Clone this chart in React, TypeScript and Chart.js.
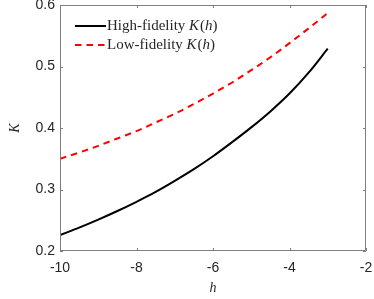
import React, { useEffect, useRef } from "react";
import { Chart, registerables } from "chart.js";

Chart.register(...registerables);

const hValues = [-10, -9.5, -9, -8.5, -8, -7.5, -7, -6.5, -6, -5.5, -5, -4.5, -4, -3.5, -3];
const highFidelity = [0.226, 0.238, 0.251, 0.265, 0.28, 0.296, 0.314, 0.333, 0.354, 0.377, 0.401, 0.427, 0.456, 0.49, 0.529];
const lowFidelity = [0.35, 0.36, 0.371, 0.383, 0.395, 0.409, 0.423, 0.439, 0.456, 0.474, 0.494, 0.515, 0.538, 0.562, 0.587];
const legendNames = ["High-fidelity ", "Low-fidelity "];
const xTicks = [-10, -8, -6, -4, -2];
const yTicks = [0.2, 0.3, 0.4, 0.5, 0.6];

const AXIS_COLOR = "#7f7f7f";
const TEXT_COLOR = "#262626";
const SERIF = "'Liberation Serif', 'DejaVu Serif', serif";
const SANS = "'Liberation Sans', Arial, sans-serif";

const boxPlugin = {
  id: "boxPlugin",
  afterDraw(chart: any) {
    const { ctx, chartArea, scales } = chart;
    const { left, right, top, bottom } = chartArea;
    ctx.save();
    ctx.strokeStyle = AXIS_COLOR;
    ctx.lineWidth = 1;
    ctx.beginPath();
    ctx.rect(left + 0.5, top + 0.5, right - left - 1, bottom - top - 1);
    ctx.stroke();
    const tl = 3;
    ctx.beginPath();
    for (const v of xTicks) {
      const x = Math.round(scales.x.getPixelForValue(v)) + 0.5;
      ctx.moveTo(x, bottom);
      ctx.lineTo(x, bottom - tl);
      ctx.moveTo(x, top);
      ctx.lineTo(x, top + tl);
    }
    for (const v of yTicks) {
      const y = Math.round(scales.y.getPixelForValue(v)) + 0.5;
      ctx.moveTo(left, y);
      ctx.lineTo(left + tl, y);
      ctx.moveTo(right, y);
      ctx.lineTo(right - tl, y);
    }
    ctx.stroke();

    // legend
    const rows = [
      { name: legendNames[0], color: "#000000", dash: [] as number[], y: top + 21 },
      { name: legendNames[1], color: "#ff0000", dash: [6.5, 5], y: top + 40 },
    ];
    const x0 = left + 15;
    const x1 = left + 46;
    for (const r of rows) {
      ctx.strokeStyle = r.color;
      ctx.lineWidth = 2;
      ctx.setLineDash(r.dash);
      ctx.beginPath();
      ctx.moveTo(x0, r.y);
      ctx.lineTo(x1, r.y);
      ctx.stroke();
      ctx.setLineDash([]);
      ctx.fillStyle = TEXT_COLOR;
      ctx.textBaseline = "middle";
      ctx.textAlign = "left";
      let tx = x1 + 1;
      const parts = [
        { t: r.name, italic: false },
        { t: "K", italic: true },
        { t: "(", italic: false },
        { t: "h", italic: true },
        { t: ")", italic: false },
      ];
      for (const p of parts) {
        ctx.font = `${p.italic ? "italic " : ""}15px ${SERIF}`;
        ctx.fillText(p.t, tx, r.y);
        tx += ctx.measureText(p.t).width + (p.t === "K" ? 1 : 0);
      }
    }
    ctx.restore();
  },
};

export default function App() {
  const canvasRef = useRef<HTMLCanvasElement | null>(null);

  useEffect(() => {
    if (!canvasRef.current) return;
    const chart = new Chart(canvasRef.current, {
      type: "line",
      data: {
        datasets: [
          {
            label: "High-fidelity K(h)",
            data: hValues.map((h, i) => ({ x: h, y: highFidelity[i] })),
            borderColor: "#000000",
            borderWidth: 2,
            pointRadius: 0,
            fill: false,
            cubicInterpolationMode: "monotone",
          },
          {
            label: "Low-fidelity K(h)",
            data: hValues.map((h, i) => ({ x: h, y: lowFidelity[i] })),
            borderColor: "#ff0000",
            borderWidth: 2,
            borderDash: [6.5, 5],
            pointRadius: 0,
            fill: false,
            cubicInterpolationMode: "monotone",
          },
        ],
      },
      options: {
        animation: false,
        responsive: false,
        maintainAspectRatio: false,
        layout: { padding: { top: 5, right: 8, left: 0, bottom: 0 } },
        plugins: { legend: { display: false }, tooltip: { enabled: false } },
        scales: {
          x: {
            type: "linear",
            min: -10,
            max: -2,
            afterBuildTicks: (s: any) => {
              s.ticks = xTicks.map((v) => ({ value: v }));
            },
            ticks: {
              padding: 9,
              color: TEXT_COLOR,
              font: { family: SANS, size: 14 },
              maxRotation: 0,
              callback: (v: any) => String(v),
            },
            grid: { display: false, drawTicks: false },
            border: { display: false },
            title: {
              display: true,
              text: "h",
              color: TEXT_COLOR,
              font: { family: SERIF, size: 14, style: "italic" },
              padding: { top: 0, bottom: 2 },
            },
            afterFit: (s: any) => {
              s.height = 48;
              s.paddingLeft = 0;
              s.paddingRight = 0;
            },
          },
          y: {
            type: "linear",
            min: 0.2,
            max: 0.6,
            afterBuildTicks: (s: any) => {
              s.ticks = yTicks.map((v) => ({ value: v }));
            },
            ticks: {
              padding: 5,
              color: TEXT_COLOR,
              font: { family: SANS, size: 14 },
              callback: (v: any) => Number(v).toFixed(1),
            },
            grid: { display: false, drawTicks: false },
            border: { display: false },
            title: {
              display: true,
              text: "K",
              color: TEXT_COLOR,
              font: { family: SERIF, size: 14, style: "italic" },
              padding: { top: 7, bottom: 0 },
            },
            afterFit: (s: any) => {
              s.width = 60;
              s.paddingTop = 0;
              s.paddingBottom = 0;
            },
          },
        },
      },
      plugins: [boxPlugin],
    } as any);
    return () => chart.destroy();
  }, []);

  return (
    <div style={{ position: "absolute", left: 0, top: 0, width: 374, height: 299, background: "#fff" }}>
      <canvas ref={canvasRef} width={374} height={299} style={{ width: 374, height: 299 }} />
    </div>
  );
}
